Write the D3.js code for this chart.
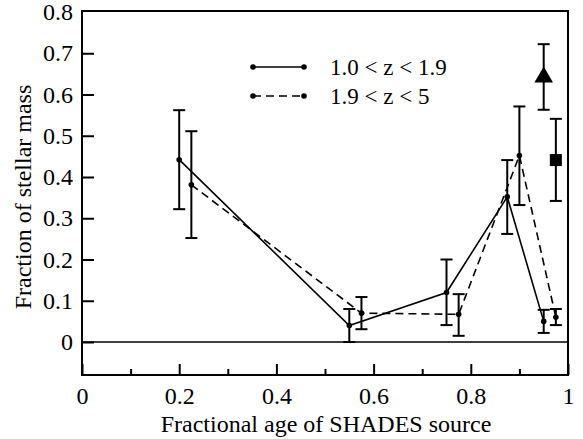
<!DOCTYPE html>
<html><head><meta charset="utf-8">
<script src="https://cdn.jsdelivr.net/npm/d3@7"></script>
<style>body{margin:0;background:#fff}svg{display:block}</style>
</head><body>
<script>
// Series 1: 1.0 < z < 1.9 (solid)
const lowZ_x   = [0.20, 0.55, 0.75, 0.875, 0.95];
const lowZ_y   = [0.442, 0.040, 0.120, 0.352, 0.050];
const lowZ_lo  = [0.322, 0.000, 0.041, 0.262, 0.022];
const lowZ_hi  = [0.562, 0.080, 0.200, 0.441, 0.078];
// Series 2: 1.9 < z < 5 (dashed)
const highZ_x  = [0.225, 0.575, 0.775, 0.90, 0.975];
const highZ_y  = [0.381, 0.070, 0.067, 0.452, 0.060];
const highZ_lo = [0.252, 0.031, 0.015, 0.332, 0.041];
const highZ_hi = [0.511, 0.109, 0.116, 0.571, 0.080];
// Extra points
const triangle = {x: 0.95, y: 0.642, lo: 0.563, hi: 0.722};
const square   = {x: 0.975, y: 0.441, lo: 0.342, hi: 0.541};
const xTicksMajor = [0, 0.2, 0.4, 0.6, 0.8, 1];
const xTicksMinor = [0.1, 0.3, 0.5, 0.7, 0.9];
const yTicks = [0, 0.1, 0.2, 0.3, 0.4, 0.5, 0.6, 0.7, 0.8];
const legendLabels = ["1.0 < z < 1.9", "1.9 < z < 5"];

const FONT = "'Liberation Serif', 'Times New Roman', Times, serif";
const W = 583, H = 439;
const L = 82, R = 568, T = 11, B = 375;
const svg = d3.select("body").append("svg").attr("width", W).attr("height", H);
const x = d3.scaleLinear().domain([0, 1]).range([L, R]);
const y = d3.scaleLinear().domain([0, 0.8]).range([342, 12]);

// frame
svg.append("rect").attr("x", L).attr("y", T).attr("width", R - L).attr("height", B - T)
  .attr("fill", "none").attr("stroke", "#000").attr("stroke-width", 2);
// zero line
svg.append("line").attr("x1", L).attr("x2", R).attr("y1", y(0)).attr("y2", y(0))
  .attr("stroke", "#000").attr("stroke-width", 1.5);

// y ticks (inward)
const yAxis = d3.axisLeft(y).tickValues(yTicks).tickSize(-12).tickPadding(22)
  .tickFormat(d => d === 0 ? "0" : d3.format(".1f")(d));
const gy = svg.append("g").attr("transform", `translate(${L},0)`).call(yAxis);
gy.attr("font-family", null);
gy.select(".domain").remove();
gy.selectAll(".tick line").attr("stroke-width", 2).filter(d => d === 0.8).remove();
gy.selectAll(".tick text").style("font-family", FONT).attr("font-size", 24).attr("text-anchor", "end").attr("dx", 13);

// x ticks (inward)
const xAxis = d3.axisBottom(x).tickValues(xTicksMajor).tickSize(-11).tickPadding(12)
  .tickFormat(d => d === 0 || d === 1 ? String(d) : d3.format(".1f")(d));
const gx = svg.append("g").attr("transform", `translate(0,${B})`).call(xAxis);
gx.attr("font-family", null);
gx.select(".domain").remove();
gx.selectAll(".tick line").attr("stroke-width", 2);
gx.selectAll(".tick text").style("font-family", FONT).attr("font-size", 24);
const gxm = svg.append("g").attr("transform", `translate(0,${B})`)
  .call(d3.axisBottom(x).tickValues(xTicksMinor).tickSize(-6).tickFormat(""));
gxm.select(".domain").remove();
gxm.selectAll(".tick line").attr("stroke-width", 2);

// axis labels
svg.append("text").attr("x", 326).attr("y", 432).attr("text-anchor", "middle")
  .style("font-family", FONT).attr("font-size", 24).text("Fractional age of SHADES source");
svg.append("text").attr("transform", "translate(31,197) rotate(-90)").attr("text-anchor", "middle")
  .style("font-family", FONT).attr("font-size", 24).text("Fraction of stellar mass");

function errbars(xs, lo, hi) {
  xs.forEach((xv, i) => {
    const g = svg.append("g").attr("stroke", "#000").attr("stroke-width", 2);
    g.append("line").attr("x1", x(xv)).attr("x2", x(xv)).attr("y1", y(lo[i])).attr("y2", y(hi[i]));
    [lo[i], hi[i]].forEach(v => g.append("line").attr("x1", x(xv) - 6).attr("x2", x(xv) + 6)
      .attr("y1", y(v)).attr("y2", y(v)));
  });
}
errbars(lowZ_x, lowZ_lo, lowZ_hi);
errbars(highZ_x, highZ_lo, highZ_hi);
errbars([triangle.x], [triangle.lo], [triangle.hi]);
errbars([square.x], [square.lo], [square.hi]);

const line = d3.line().x(d => x(d[0])).y(d => y(d[1]));
svg.append("path").datum(d3.zip(lowZ_x, lowZ_y)).attr("d", line)
  .attr("fill", "none").attr("stroke", "#000").attr("stroke-width", 1.6);
svg.append("path").datum(d3.zip(highZ_x, highZ_y)).attr("d", line)
  .attr("fill", "none").attr("stroke", "#000").attr("stroke-width", 1.6).attr("stroke-dasharray", "8,5");
[...d3.zip(lowZ_x, lowZ_y), ...d3.zip(highZ_x, highZ_y)].forEach(p =>
  svg.append("circle").attr("cx", x(p[0])).attr("cy", y(p[1])).attr("r", 2.8).attr("fill", "#000"));

svg.append("path").attr("d", d3.symbol(d3.symbolTriangle, 150)())
  .attr("transform", `translate(${x(triangle.x)},${y(triangle.y)})`).attr("fill", "#000");
svg.append("rect").attr("x", x(square.x) - 6).attr("y", y(square.y) - 6).attr("width", 12).attr("height", 12).attr("fill", "#000");

// legend
const legY = [67, 96];
legendLabels.forEach((lab, i) => {
  const g = svg.append("g");
  g.append("line").attr("x1", 253).attr("x2", 304).attr("y1", legY[i]).attr("y2", legY[i])
    .attr("stroke", "#000").attr("stroke-width", 1.6).attr("stroke-dasharray", i ? "8,5" : null);
  [253, 304].forEach(cx => g.append("circle").attr("cx", cx).attr("cy", legY[i]).attr("r", 2.8).attr("fill", "#000"));
  g.append("text").attr("x", 330).attr("y", legY[i] + 8).style("font-family", FONT).attr("font-size", 23).text(lab);
});
</script>
</body></html>
